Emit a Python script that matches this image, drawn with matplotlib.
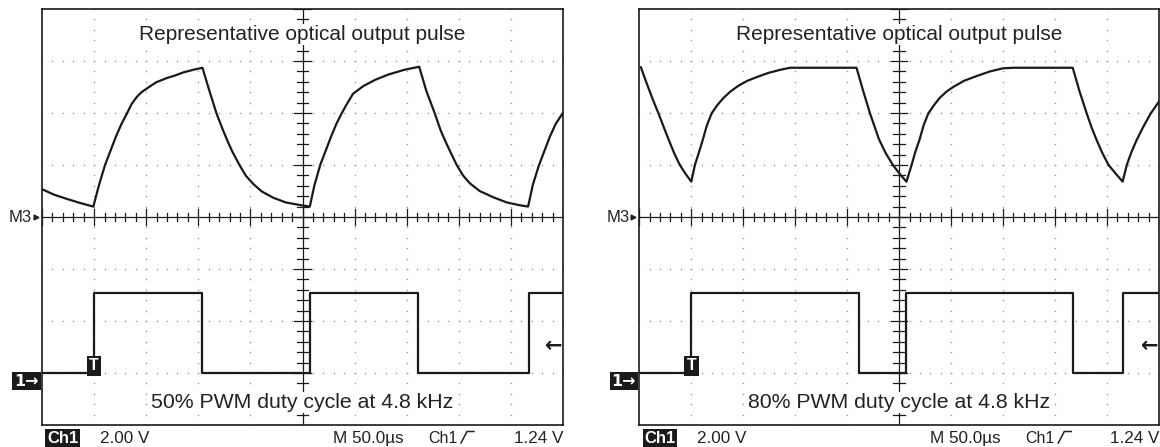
import matplotlib
matplotlib.use("Agg")
import matplotlib.pyplot as plt
import numpy as np

plt.rcParams['font.family'] = ['Liberation Sans', 'DejaVu Sans']

# Scope traces, in screen divisions (x: 0..10 at 50 us/div, y: -4..4)
# 50% duty cycle panel
opt50_x = [0.01, 0.23, 0.47, 0.73, 0.985, 1.094, 1.21, 1.42, 1.526, 1.63, 1.718,
           1.82, 1.91, 2.01, 2.19, 2.39, 2.55, 2.71, 2.90, 3.08,
           3.215, 3.35, 3.474, 3.57, 3.647, 3.79, 3.916, 4.06, 4.22, 4.44, 4.68,
           4.95, 5.14, 5.23, 5.34, 5.55, 5.65, 5.75, 5.85, 5.97, 6.17, 6.40,
           6.65, 6.95, 7.24, 7.375, 7.54, 7.65, 7.75, 7.83, 7.96, 8.08, 8.21,
           8.40, 8.66, 8.92, 9.15, 9.33, 9.42, 9.54, 9.75, 9.86, 9.99]
opt50_y = [0.53, 0.43, 0.35, 0.27, 0.20, 0.615, 1.00, 1.55, 1.79, 1.99, 2.17,
           2.31, 2.40, 2.47, 2.59, 2.67, 2.72, 2.78, 2.83, 2.87,
           2.42, 1.99, 1.67, 1.44, 1.27, 1.00, 0.79, 0.63, 0.49, 0.37, 0.28,
           0.23, 0.20, 0.615, 1.00, 1.55, 1.79, 1.99, 2.17, 2.37, 2.52, 2.64,
           2.74, 2.83, 2.89, 2.43, 1.99, 1.67, 1.44, 1.27, 1.00, 0.80, 0.65,
           0.50, 0.38, 0.28, 0.23, 0.20, 0.615, 1.00, 1.55, 1.79, 1.99]
pwm50_x = [0, 1.0, 3.08, 5.14, 7.22, 9.35, 10.0]
pwm50_y = [-3.0, -1.46, -3.0, -1.46, -3.0, -1.46, -1.46]

# 80% duty cycle panel
opt80_x = [0.03, 0.15, 0.26, 0.37, 0.47, 0.56, 0.67, 0.78, 0.89, 1.0,
           1.07, 1.15, 1.22, 1.30, 1.39, 1.50, 1.62, 1.75, 1.90, 2.08, 2.26,
           2.48, 2.71, 2.90, 4.18,
           4.30, 4.44, 4.53, 4.61, 4.74, 4.88, 5.01, 5.14,
           5.24, 5.31, 5.39, 5.47, 5.56, 5.67, 5.78, 5.91, 6.04, 6.25, 6.49,
           6.75, 7.0, 7.2, 8.34,
           8.47, 8.61, 8.70, 8.80, 8.91, 9.03, 9.17, 9.30,
           9.38, 9.47, 9.57, 9.70, 9.84, 10.0]
opt80_y = [2.88, 2.55, 2.26, 1.99, 1.73, 1.50, 1.23, 1.00, 0.83, 0.68,
           1.00, 1.25, 1.48, 1.76, 1.99, 2.15, 2.29, 2.41, 2.52, 2.62, 2.69,
           2.77, 2.83, 2.87, 2.87,
           2.45, 1.99, 1.73, 1.50, 1.23, 1.00, 0.83, 0.68,
           1.00, 1.25, 1.48, 1.76, 1.99, 2.15, 2.29, 2.41, 2.50, 2.62, 2.71,
           2.80, 2.86, 2.87, 2.87,
           2.42, 1.99, 1.73, 1.48, 1.23, 1.00, 0.83, 0.68,
           1.00, 1.25, 1.48, 1.74, 1.99, 2.22]
pwm80_x = [0, 1.0, 4.22, 5.13, 8.35, 9.30, 10.0]
pwm80_y = [-3.0, -1.46, -3.0, -1.46, -3.0, -1.46, -1.46]

top_label = "Representative optical output pulse"
bottom_labels = ["50% PWM duty cycle at 4.8 kHz", "80% PWM duty cycle at 4.8 kHz"]
trig_pos = 1.0
trig_level = -2.49

W, H = 1160, 447
ink = '#1a1a1a'
fig = plt.figure(figsize=(W / 100, H / 100), dpi=100)


def scope_panel(left_px, width_px, ox, oy, px, py, bottom_label):
    ax = fig.add_axes([left_px / W, 22 / H, width_px / W, 416 / H])
    ax.set_xlim(0, 10)
    ax.set_ylim(-4, 4)
    ax.set_xticks([])
    ax.set_yticks([])
    for s in ax.spines.values():
        s.set_linewidth(1.2)
        s.set_color(ink)

    # dotted graticule
    fine = np.arange(0, 10.01, 0.2)
    fine_y = np.arange(-4, 4.01, 0.2)
    for gx in [1, 2, 3, 4, 6, 7, 8, 9]:
        ax.plot(np.full(len(fine_y), gx), fine_y, ls='none', marker='s',
                ms=1.0, mew=0, color='#9a9a9a')
    for gy in [-3, -2, -1, 1, 2, 3]:
        ax.plot(fine, np.full(len(fine), gy), ls='none', marker='s',
                ms=1.0, mew=0, color='#9a9a9a')

    # centre crosshair with ticks
    ax.axhline(0, color=ink, lw=0.9)
    ax.axvline(5, color=ink, lw=0.9)
    for t in fine:
        h = 0.16 if abs(t - round(t)) < 1e-6 else 0.08
        ax.plot([t, t], [-h, h], color=ink, lw=0.9)
    for t in fine_y:
        w = 0.16 if abs(t - round(t)) < 1e-6 else 0.11
        ax.plot([5 - w, 5 + w], [t, t], color=ink, lw=0.9)

    # traces
    ax.plot(ox, oy, color=ink, lw=1.6, solid_joinstyle='round', zorder=4)
    ax.step(px, py, where='post', color=ink, lw=1.6, zorder=4)

    mask = dict(boxstyle='square,pad=0.05', fc='white', ec='none')
    ax.text(5, 3.40, top_label, ha='center', va='baseline', fontsize=15,
            color='#222222', bbox=mask, zorder=5)
    ax.text(5, -3.68, bottom_label, ha='center', va='baseline', fontsize=15.3,
            color='#222222', bbox=mask, zorder=5)

    # trigger marker and level arrow
    ax.text(trig_pos, -2.86, "T", ha='center', va='center', fontsize=11.5, fontweight='bold',
            color='white', zorder=6,
            bbox=dict(boxstyle='square,pad=0.16', fc=ink, ec='none'))
    ax.text(9.99, trig_level, "\u2190", ha='right', va='center', fontsize=15,
            fontweight='bold', color=ink, family='DejaVu Sans', zorder=6)

    # left side markers
    ax.text(-10 / width_px, 0.5, "M3", transform=ax.transAxes, ha='right', va='center',
            fontsize=12, color='#222222')
    ax.plot([-6 / width_px], [0.5], transform=ax.transAxes, marker='>', ms=3.5,
            color='#222222', clip_on=False)
    ax.text(-15.5 / width_px, (425 - 381) / 416, "1\u2192", transform=ax.transAxes,
            ha='center', va='center', fontsize=11.5, fontweight='bold', color='white',
            family='DejaVu Sans',
            bbox=dict(boxstyle='square,pad=0.12', fc=ink, ec='none'))

    # status line
    yb = (425 - 442.7) / 416
    ax.text(5 / width_px, yb, "Ch1", transform=ax.transAxes, ha='left', va='baseline',
            fontsize=12, fontweight='bold', color='white',
            bbox=dict(boxstyle='square,pad=0.1', fc=ink, ec='none'))
    ax.text(58 / width_px, yb, "2.00 V", transform=ax.transAxes, ha='left', va='baseline',
            fontsize=12.3, color='#222222')
    ax.text(291 / width_px, yb, "M 50.0\u00b5s", transform=ax.transAxes, ha='left',
            va='baseline', fontsize=12.3, color='#222222')
    ax.text(386 / width_px, yb, "Ch1", transform=ax.transAxes, ha='left', va='baseline',
            fontsize=11.5, color='#222222')
    # rising-edge trigger slope symbol
    ax.plot([419 / width_px, 425 / width_px, 432 / width_px],
            [(425 - 443) / 416, (425 - 431.5) / 416, (425 - 431.5) / 416],
            transform=ax.transAxes, color='#222222', lw=1.1, clip_on=False)
    ax.text(1.0, yb, "1.24 V", transform=ax.transAxes, ha='right', va='baseline',
            fontsize=12.3, color='#222222')
    return ax


scope_panel(42, 521, opt50_x, opt50_y, pwm50_x, pwm50_y, bottom_labels[0])
scope_panel(639.3, 519.7, opt80_x, opt80_y, pwm80_x, pwm80_y, bottom_labels[1])

fig.savefig("out.png", dpi=100, facecolor='white')
